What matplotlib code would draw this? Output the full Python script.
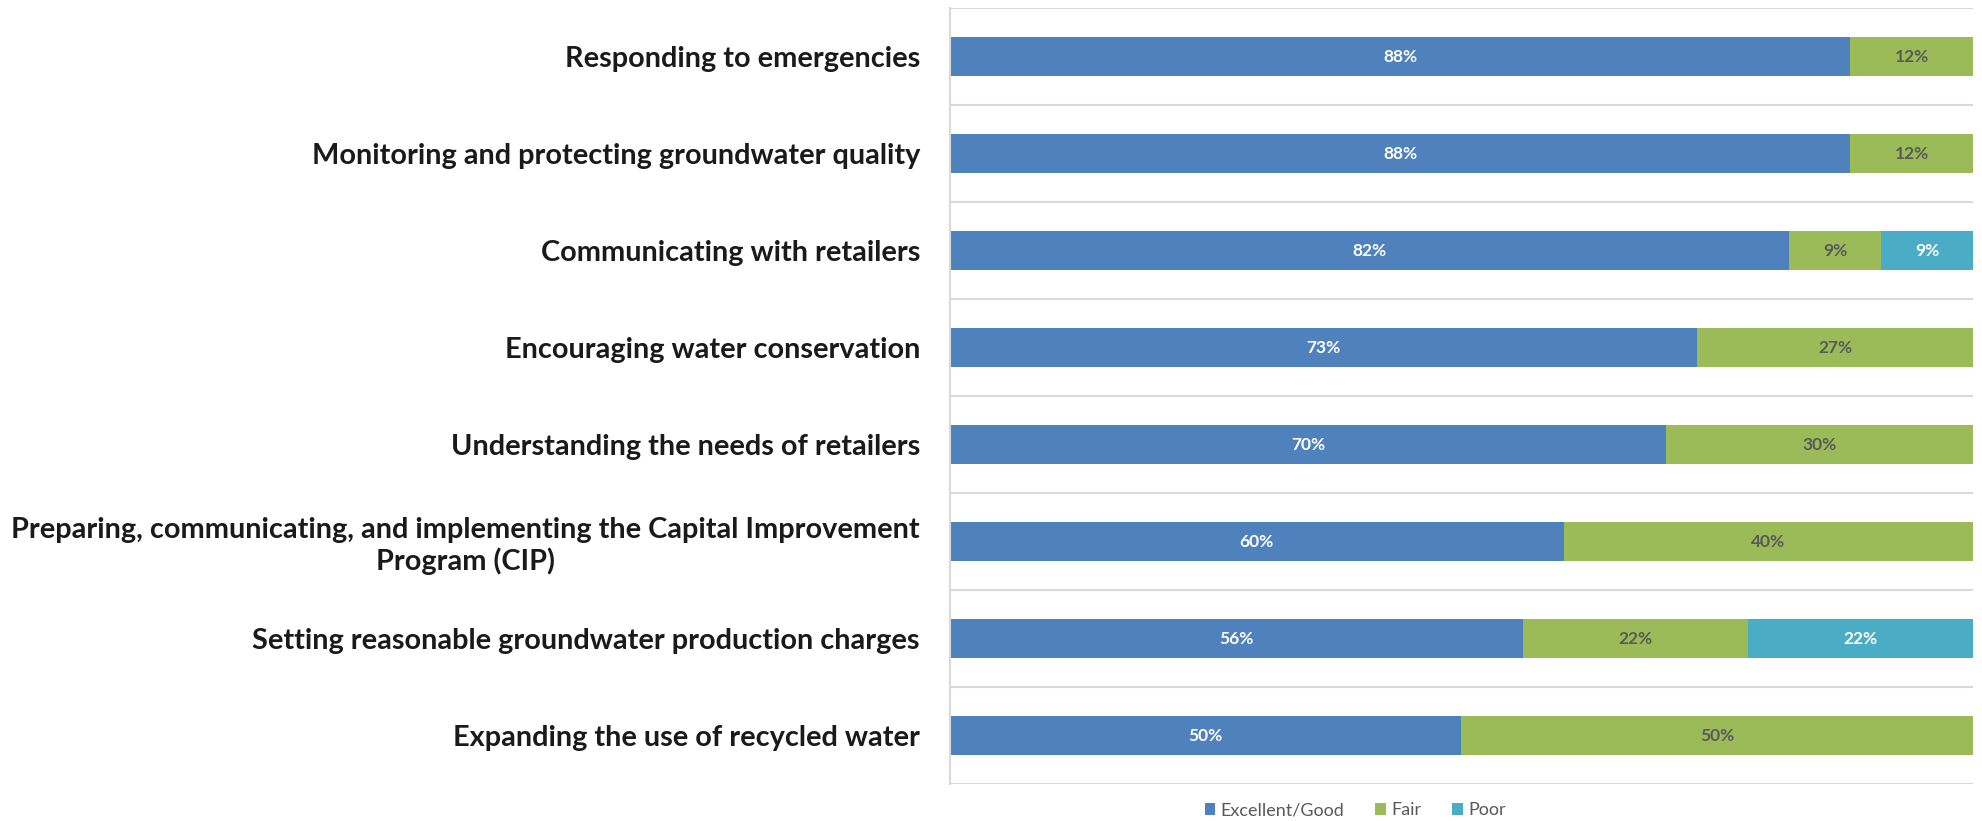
import numpy as np
import matplotlib.pyplot as plt

categories = [
    'Responding to emergencies',
    'Monitoring and protecting groundwater quality',
    'Communicating with retailers',
    'Encouraging water conservation',
    'Understanding the needs of retailers',
    'Preparing, communicating, and implementing the Capital Improvement\nProgram (CIP)',
    'Setting reasonable groundwater production charges',
    'Expanding the use of recycled water',
]
excellent_good = [88, 88, 82, 73, 70, 60, 56, 50]
fair = [12, 12, 9, 27, 30, 40, 22, 50]
poor = [0, 0, 9, 0, 0, 0, 22, 0]

series = [
    ('Excellent/Good', excellent_good, '#4F81BD', 'white'),
    ('Fair', fair, '#9BBB59', '#595959'),
    ('Poor', poor, '#4BACC6', 'white'),
]

plt.rcParams['font.family'] = ['Lato', 'DejaVu Sans']

fig = plt.figure(figsize=(19.83, 8.21), dpi=100)
ax = fig.add_axes([0.479, 0.045, 0.516, 0.945])

y = np.arange(len(categories))
left = np.zeros(len(categories))
handles = []
for name, vals, color, tcolor in series:
    vals = np.array(vals, dtype=float)
    h = ax.barh(y, vals, left=left, height=0.4, color=color, label=name)
    handles.append(h)
    for yi, v, l in zip(y, vals, left):
        if v > 0:
            ax.text(l + v / 2, yi, f'{int(v)}%', ha='center', va='center',
                    fontsize=12.5, fontweight='bold', color=tcolor)
    left += vals

ax.set_xlim(0, 100)
ax.set_ylim(len(categories) - 0.5, -0.5)
for b in np.arange(-0.5, len(categories), 1.0):
    ax.axhline(b, color='#D9D9D9', linewidth=1.5, zorder=0)

ax.set_xticks([])
ax.set_yticks(y)
ax.set_yticklabels(categories, fontsize=20.8, fontweight='bold', color='#1a1a1a',
                   multialignment='center')
ax.tick_params(axis='y', length=0, pad=21.5)
for s in ['top', 'right', 'bottom']:
    ax.spines[s].set_visible(False)
ax.spines['left'].set_color('#D9D9D9')
ax.spines['left'].set_linewidth(1.5)

fig.legend(handles=handles, loc='center', bbox_to_anchor=(0.6835, 0.013),
           ncol=3, frameon=False, fontsize=13, labelcolor='#595959',
           handlelength=0.6, handleheight=0.6, columnspacing=1.7, handletextpad=0.3)

fig.savefig('out.png', dpi=100)
